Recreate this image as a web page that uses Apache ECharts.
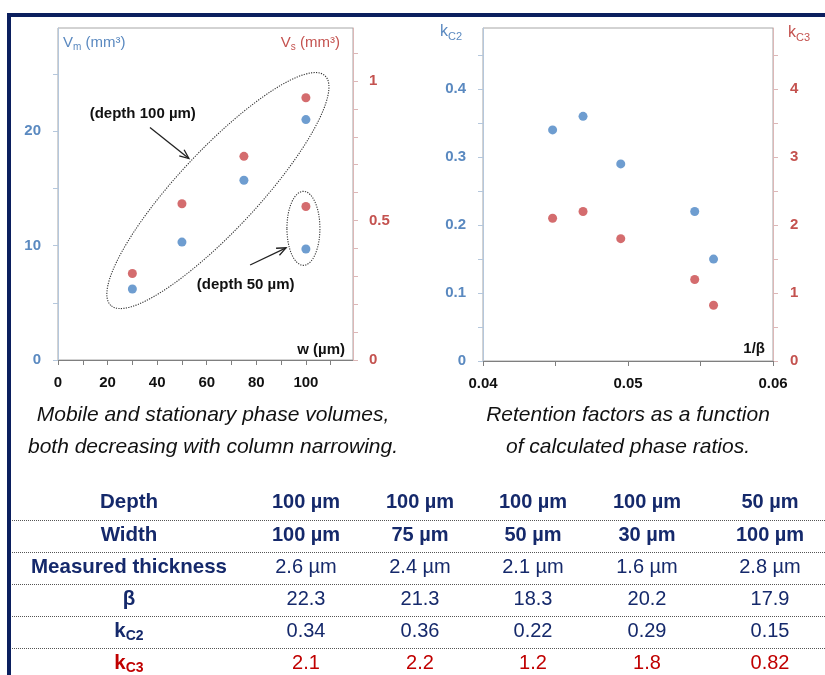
<!DOCTYPE html>
<html><head><meta charset="utf-8">
<script src="https://cdn.jsdelivr.net/npm/echarts@6/dist/echarts.min.js"></script>
<style>html,body{margin:0;padding:0;background:#fff}#c{width:825px;height:675px}</style>
</head><body><div id="c"></div>
<script>
// ---------- data ----------
const depthLabels = ['100 µm', '100 µm', '100 µm', '100 µm', '50 µm'];
const widthLabels = ['100 µm', '75 µm', '50 µm', '30 µm', '100 µm'];
const widthValues = [100, 75, 50, 30, 100];
const thicknessLabels = ['2.6 µm', '2.4 µm', '2.1 µm', '1.6 µm', '2.8 µm'];
const beta = [22.3, 21.3, 18.3, 20.2, 17.9];
const kC2 = [0.34, 0.36, 0.22, 0.29, 0.15];
const kC3 = [2.1, 2.2, 1.2, 1.8, 0.82];
const vm = [21.0, 15.7, 10.3, 6.2, 9.7];
const vs = [0.94, 0.73, 0.56, 0.31, 0.55];
const invBeta = [0.0448, 0.0469, 0.0546, 0.0495, 0.0559];

const wTicks = [0, 10, 20, 30, 40, 50, 60, 70, 80, 90, 100, 110];
const wTickLabels = [0, 20, 40, 60, 80, 100];
const vmTicks = [0, 5, 10, 15, 20, 25];
const vmTickLabels = [0, 10, 20];
const vsTicks = [0, 0.1, 0.2, 0.3, 0.4, 0.5, 0.6, 0.7, 0.8, 0.9, 1, 1.1];
const vsTickLabels = [0, 0.5, 1];
const ibTicks = [0.04, 0.045, 0.05, 0.055, 0.06];
const ibTickLabels = [0.04, 0.05, 0.06];
const k2Ticks = [0, 0.05, 0.1, 0.15, 0.2, 0.25, 0.3, 0.35, 0.4, 0.45];
const k2TickLabels = [0, 0.1, 0.2, 0.3, 0.4];
const k3Ticks = [0, 0.5, 1, 1.5, 2, 2.5, 3, 3.5, 4, 4.5];
const k3TickLabels = [0, 1, 2, 3, 4];

const captionLeft = ['Mobile and stationary phase volumes,', 'both decreasing with column narrowing.'];
const captionRight = ['Retention factors as a function', 'of calculated phase ratios.'];

// ---------- styles ----------
const FONT = 'Arial, "Liberation Sans", sans-serif';
const BLUE = '#4a84c4', RED = '#c9474a';
const BLUE_TXT = '#5a89c0', RED_TXT = '#c4524f';
const BLUE_AX = '#b5c7dc', RED_AX = '#dcb7b7', GRAY_AX = '#7f7f7f';
const NAVY = '#15296b', TRED = '#c00000', FRAME = '#0b1f5e';

function yAx(grid, pos, max, ticks, labels, axColor, txtColor, margin) {
  return {
    type: 'value', gridIndex: grid, position: pos, min: 0, max: max,
    axisLine: { show: true, onZero: false, lineStyle: { color: axColor, width: 1 } },
    axisTick: { show: true, length: 5, customValues: ticks, lineStyle: { color: axColor } },
    axisLabel: { customValues: labels, color: txtColor, fontSize: 15, fontWeight: 'bold', fontFamily: FONT, margin: margin },
    splitLine: { show: false }
  };
}
function xAx(grid, min, max, ticks, labels) {
  return {
    type: 'value', gridIndex: grid, min: min, max: max,
    axisLine: { show: true, onZero: false, lineStyle: { color: GRAY_AX, width: 1 } },
    axisTick: { show: true, length: 5, customValues: ticks, lineStyle: { color: GRAY_AX } },
    axisLabel: { customValues: labels, color: '#111', fontSize: 15, fontWeight: 'bold', fontFamily: FONT, margin: 15 },
    splitLine: { show: false }
  };
}

const chart = echarts.init(document.getElementById('c'), null, { renderer: 'canvas' });
chart.setOption({
  animation: false,
  backgroundColor: '#fff',
  grid: [
    { left: 58, top: 28, width: 295, height: 332, show: true, borderColor: '#a6a6a6', borderWidth: 1, outerBoundsMode: 'none' },
    { left: 483, top: 28, width: 290, height: 333, show: true, borderColor: '#a6a6a6', borderWidth: 1, outerBoundsMode: 'none' }
  ],
  xAxis: [
    xAx(0, 0, 119, wTicks, wTickLabels),
    xAx(1, 0.04, 0.06, ibTicks, ibTickLabels)
  ],
  yAxis: [
    yAx(0, 'left', 29, vmTicks, vmTickLabels, BLUE_AX, BLUE_TXT, 17),
    yAx(0, 'right', 1.19, vsTicks, vsTickLabels, RED_AX, RED_TXT, 16),
    yAx(1, 'left', 0.49, k2Ticks, k2TickLabels, BLUE_AX, BLUE_TXT, 17),
    yAx(1, 'right', 4.9, k3Ticks, k3TickLabels, RED_AX, RED_TXT, 17)
  ],
  series: [
    { name: 'Vm', type: 'scatter', xAxisIndex: 0, yAxisIndex: 0, symbolSize: 9, itemStyle: { color: BLUE },
      data: widthValues.map((w, i) => [w, vm[i]]) },
    { name: 'Vs', type: 'scatter', xAxisIndex: 0, yAxisIndex: 1, symbolSize: 9, itemStyle: { color: RED },
      data: widthValues.map((w, i) => [w, vs[i]]) },
    { name: 'kC2', type: 'scatter', xAxisIndex: 1, yAxisIndex: 2, symbolSize: 9, itemStyle: { color: BLUE },
      data: invBeta.map((b, i) => [b, kC2[i]]) },
    { name: 'kC3', type: 'scatter', xAxisIndex: 1, yAxisIndex: 3, symbolSize: 9, itemStyle: { color: RED },
      data: invBeta.map((b, i) => [b, kC3[i]]) }
  ]
});

// ---------- graphics ----------
function txt(x, y, text, opt) {
  opt = opt || {};
  return {
    type: 'text', x: x, y: y, z: 100, silent: true,
    style: {
      text: text, fill: opt.color || '#111',
      fontSize: opt.size || 15, fontWeight: opt.weight || 'normal', fontStyle: opt.style || 'normal',
      fontFamily: FONT,
      align: opt.align || 'center', verticalAlign: 'middle',
      textAlign: opt.align || 'center', textVerticalAlign: 'middle'
    }
  };
}
function subTxt(x, y, parts, opt) {
  const size = opt.size, sub = Math.round(size * 0.68);
  const base = { fontSize: size, fontWeight: opt.weight || 'normal', fill: opt.color, color: opt.color, fontFamily: FONT, lineHeight: size + 4, verticalAlign: 'middle' };
  const s = { fontSize: sub, fontWeight: opt.weight || 'normal', fill: opt.color, color: opt.color, fontFamily: FONT, lineHeight: sub, verticalAlign: 'bottom' };
  return {
    type: 'text', x: x, y: y, z: 100, silent: true,
    style: {
      text: parts.map(p => (p[1] ? '{s|' : '{a|') + p[0] + '}').join(''),
      rich: { a: base, s: s },
      align: opt.align || 'center', verticalAlign: 'middle',
      textAlign: opt.align || 'center', textVerticalAlign: 'middle'
    }
  };
}
function arrow(p0, p1) {
  const ang = Math.atan2(p1[1] - p0[1], p1[0] - p0[0]);
  const L = 10, A = 0.4;
  const h1 = [p1[0] - L * Math.cos(ang - A), p1[1] - L * Math.sin(ang - A)];
  const h2 = [p1[0] - L * Math.cos(ang + A), p1[1] - L * Math.sin(ang + A)];
  return [
    { type: 'line', z: 100, silent: true, shape: { x1: p0[0], y1: p0[1], x2: p1[0], y2: p1[1] }, style: { stroke: '#222', lineWidth: 1.3 } },
    { type: 'polyline', z: 100, silent: true, shape: { points: [h1, p1, h2] }, style: { stroke: '#222', lineWidth: 1.3, fill: null } }
  ];
}
function ellipse(c, rx, ry, rot) {
  return { type: 'ellipse', z: 90, silent: true, x: c[0], y: c[1], rotation: rot,
    shape: { cx: 0, cy: 0, rx: rx, ry: ry },
    style: { fill: null, stroke: '#333', lineWidth: 1.1, lineDash: [1.2, 1.3] } };
}

const toPx = (pt) => chart.convertToPixel({ gridIndex: 0 }, pt);

const g = [];
// frame
g.push({ type: 'rect', z: 100, silent: true, shape: { x: 7, y: 13, width: 818, height: 4 }, style: { fill: FRAME } });
g.push({ type: 'rect', z: 100, silent: true, shape: { x: 7, y: 13, width: 4, height: 662 }, style: { fill: FRAME } });

// axis titles
g.push(subTxt(63, 43, [['V', 0], ['m', 1], [' (mm³)', 0]], { size: 15, color: BLUE_TXT, align: 'left' }));
g.push(subTxt(340, 43, [['V', 0], ['s', 1], [' (mm³)', 0]], { size: 15, color: RED_TXT, align: 'right' }));
g.push(txt(345, 350, 'w (µm)', { weight: 'bold', align: 'right' }));
g.push(subTxt(440, 32, [['k', 0], ['C2', 1]], { size: 16, color: BLUE_TXT, align: 'left' }));
g.push(subTxt(788, 33, [['k', 0], ['C3', 1]], { size: 16, color: RED_TXT, align: 'left' }));
g.push(txt(765, 349, '1/β', { weight: 'bold', align: 'right' }));

// annotations (anchored in data coordinates of the left panel)
g.push(ellipse(toPx([64.5, 14.8]), 157, 40, 0.82));
g.push(ellipse(toPx([99.0, 11.5]), 16.5, 37, 0));
g.push(txt(...toPx([34.2, 21.5]), '(depth 100 µm)', { weight: 'bold' }));
g.push(txt(...toPx([75.7, 6.55]), '(depth 50 µm)', { weight: 'bold' }));
g.push(...arrow(toPx([37.1, 20.3]), toPx([52.8, 17.6])));
g.push(...arrow(toPx([77.5, 8.3]), toPx([92.0, 9.8])));

// captions
captionLeft.forEach((t, i) => g.push(txt(213, 415 + i * 32, t, { size: 21, style: 'italic' })));
captionRight.forEach((t, i) => g.push(txt(628, 415 + i * 32, t, { size: 21, style: 'italic' })));

// table
const colX = [129, 306, 420, 533, 647, 770];
const rowY = [502, 535, 567, 599, 631, 663];
const rows = [
  { label: [['Depth', 0]], cells: depthLabels, weight: 'bold', color: NAVY },
  { label: [['Width', 0]], cells: widthLabels, weight: 'bold', color: NAVY },
  { label: [['Measured thickness', 0]], cells: thicknessLabels, weight: 'normal', color: NAVY },
  { label: [['β', 0]], cells: beta.map(String), weight: 'normal', color: NAVY },
  { label: [['k', 0], ['C2', 1]], cells: kC2.map(String), weight: 'normal', color: NAVY },
  { label: [['k', 0], ['C3', 1]], cells: kC3.map(String), weight: 'normal', color: TRED }
];
rows.forEach((r, i) => {
  g.push(subTxt(colX[0], rowY[i], r.label, { size: 20.5, weight: 'bold', color: r.color }));
  r.cells.forEach((c, j) => g.push(txt(colX[j + 1], rowY[i], c, { size: 20, weight: r.weight, color: r.color })));
  if (i < rows.length - 1) {
    const ly = Math.round((rowY[i] + rowY[i + 1]) / 2) + 1.5;
    g.push({ type: 'line', z: 100, silent: true, shape: { x1: 12, y1: ly, x2: 825, y2: ly }, style: { stroke: '#555', lineWidth: 1, lineDash: [1, 1] } });
  }
});

chart.setOption({ graphic: { elements: g } });
</script>
</body></html>
